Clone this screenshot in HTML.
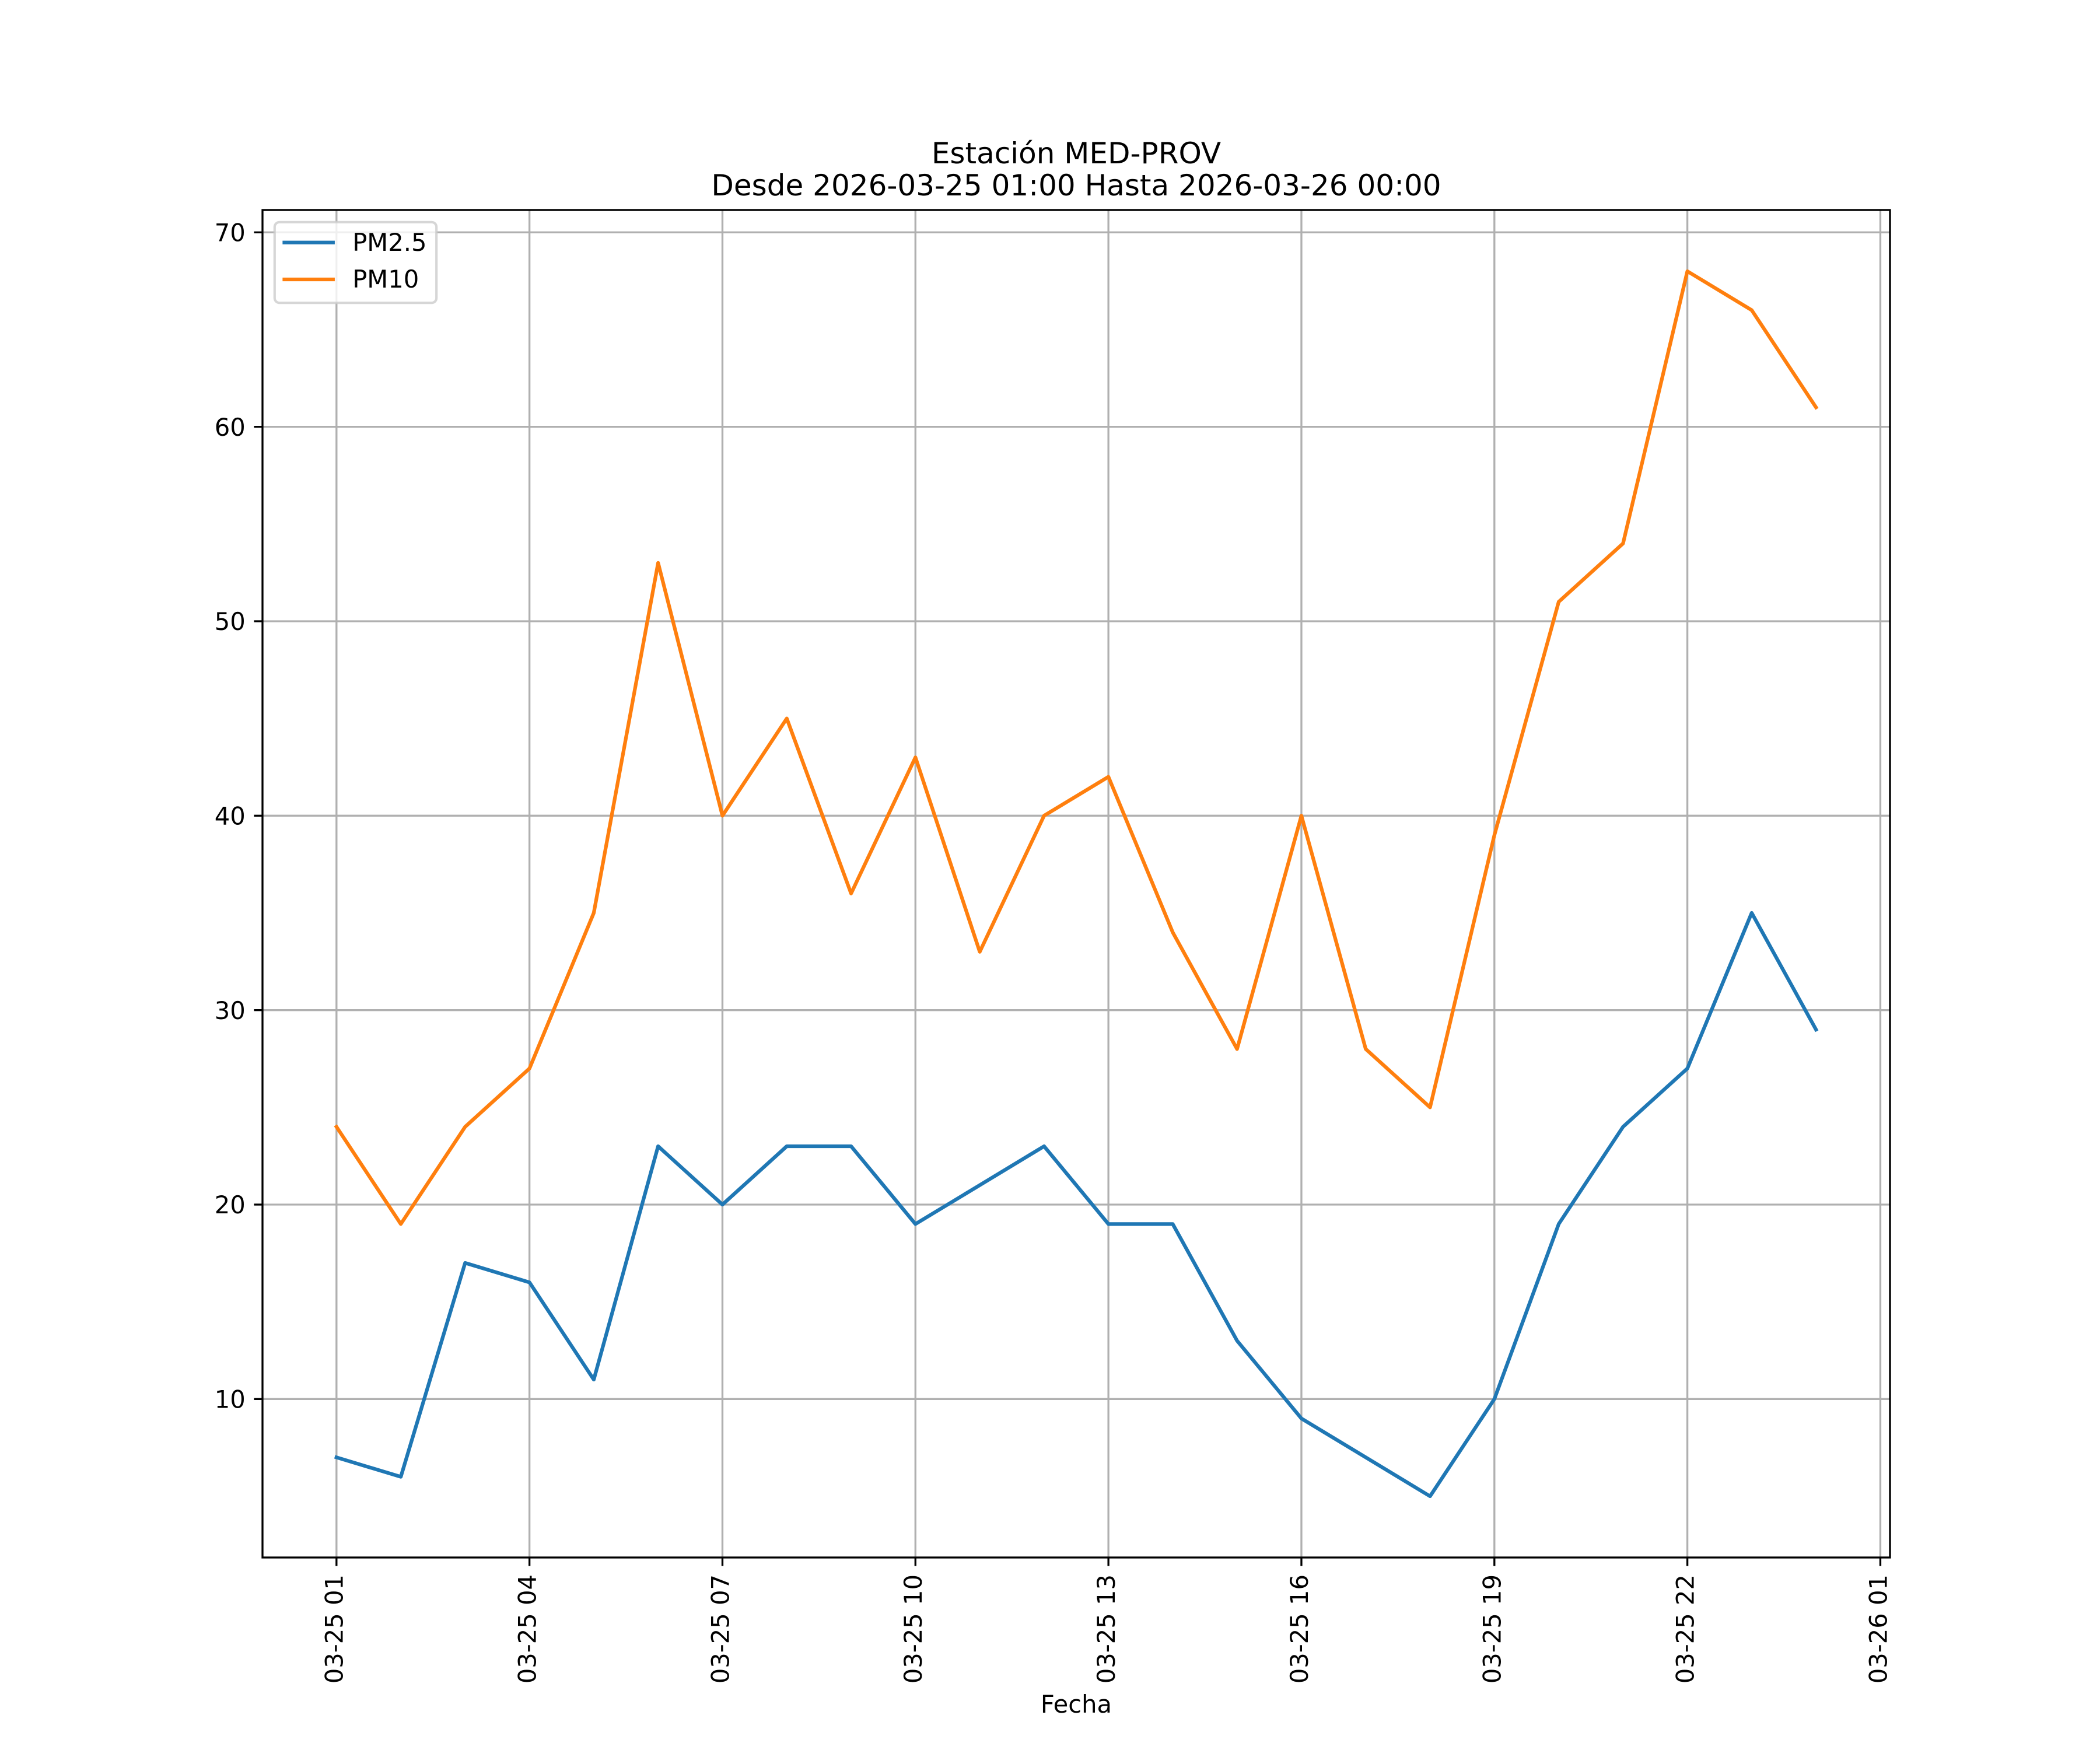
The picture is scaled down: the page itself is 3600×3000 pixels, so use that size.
<!DOCTYPE html>
<html>
<head>
<meta charset="utf-8">
<style>
html,body{margin:0;padding:0;background:#fff;}
svg{display:block;}
text{font-family:"DejaVu Sans","Liberation Sans",sans-serif;fill:#000;}
</style>
</head>
<body>
<svg width="3600" height="3000" viewBox="0 0 3600 3000" xmlns="http://www.w3.org/2000/svg">
<rect x="0" y="0" width="3600" height="3000" fill="#fff"/>
<!-- grid -->
<g stroke="#b0b0b0" stroke-width="3.33" fill="none">
<line x1="576.82" y1="360" x2="576.82" y2="2670"/>
<line x1="907.65" y1="360" x2="907.65" y2="2670"/>
<line x1="1238.48" y1="360" x2="1238.48" y2="2670"/>
<line x1="1569.31" y1="360" x2="1569.31" y2="2670"/>
<line x1="1900.14" y1="360" x2="1900.14" y2="2670"/>
<line x1="2230.97" y1="360" x2="2230.97" y2="2670"/>
<line x1="2561.80" y1="360" x2="2561.80" y2="2670"/>
<line x1="2892.63" y1="360" x2="2892.63" y2="2670"/>
<line x1="3223.46" y1="360" x2="3223.46" y2="2670"/>
<line x1="450" y1="2398.33" x2="3240" y2="2398.33"/>
<line x1="450" y1="2065" x2="3240" y2="2065"/>
<line x1="450" y1="1731.67" x2="3240" y2="1731.67"/>
<line x1="450" y1="1398.33" x2="3240" y2="1398.33"/>
<line x1="450" y1="1065" x2="3240" y2="1065"/>
<line x1="450" y1="731.67" x2="3240" y2="731.67"/>
<line x1="450" y1="398.33" x2="3240" y2="398.33"/>
</g>
<!-- series -->
<polyline fill="none" stroke="#1f77b4" stroke-width="6.25" stroke-linejoin="round" stroke-linecap="square"
points="576.82,2498.33 687.09,2531.67 797.37,2165.0 907.65,2198.33 1017.92,2365.0 1128.20,1965.0 1238.48,2065.0 1348.76,1965.0 1459.03,1965.0 1569.31,2098.33 1679.59,2031.67 1789.86,1965.0 1900.14,2098.33 2010.42,2098.33 2120.69,2298.33 2230.97,2431.67 2341.25,2498.33 2451.52,2565.0 2561.80,2398.33 2672.08,2098.33 2782.35,1931.67 2892.63,1831.67 3002.91,1565.0 3113.18,1765.0"/>
<polyline fill="none" stroke="#ff7f0e" stroke-width="6.25" stroke-linejoin="round" stroke-linecap="square"
points="576.82,1931.67 687.09,2098.33 797.37,1931.67 907.65,1831.67 1017.92,1565.0 1128.20,965.0 1238.48,1398.33 1348.76,1231.67 1459.03,1531.67 1569.31,1298.33 1679.59,1631.67 1789.86,1398.33 1900.14,1331.67 2010.42,1598.33 2120.69,1798.33 2230.97,1398.33 2341.25,1798.33 2451.52,1898.33 2561.80,1431.67 2672.08,1031.67 2782.35,931.67 2892.63,465.0 3002.91,531.67 3113.18,698.33"/>
<!-- spines -->
<rect x="450" y="360" width="2790" height="2310" fill="none" stroke="#000" stroke-width="3.33" stroke-linejoin="miter"/>
<!-- ticks -->
<g stroke="#000" stroke-width="3.33">
<line x1="576.82" y1="2670" x2="576.82" y2="2684.6"/>
<line x1="907.65" y1="2670" x2="907.65" y2="2684.6"/>
<line x1="1238.48" y1="2670" x2="1238.48" y2="2684.6"/>
<line x1="1569.31" y1="2670" x2="1569.31" y2="2684.6"/>
<line x1="1900.14" y1="2670" x2="1900.14" y2="2684.6"/>
<line x1="2230.97" y1="2670" x2="2230.97" y2="2684.6"/>
<line x1="2561.80" y1="2670" x2="2561.80" y2="2684.6"/>
<line x1="2892.63" y1="2670" x2="2892.63" y2="2684.6"/>
<line x1="3223.46" y1="2670" x2="3223.46" y2="2684.6"/>
<line x1="435.4" y1="2398.33" x2="450" y2="2398.33"/>
<line x1="435.4" y1="2065" x2="450" y2="2065"/>
<line x1="435.4" y1="1731.67" x2="450" y2="1731.67"/>
<line x1="435.4" y1="1398.33" x2="450" y2="1398.33"/>
<line x1="435.4" y1="1065" x2="450" y2="1065"/>
<line x1="435.4" y1="731.67" x2="450" y2="731.67"/>
<line x1="435.4" y1="398.33" x2="450" y2="398.33"/>
</g>
<!-- y tick labels -->
<g font-size="41.67" text-anchor="end">
<text x="420.8" y="2413.5">10</text>
<text x="420.8" y="2080.2">20</text>
<text x="420.8" y="1746.9">30</text>
<text x="420.8" y="1413.5">40</text>
<text x="420.8" y="1080.2">50</text>
<text x="420.8" y="746.9">60</text>
<text x="420.8" y="413.5">70</text>
</g>
<!-- x tick labels -->
<g font-size="41.67" text-anchor="end">
<text transform="translate(587.7,2699) rotate(-90)">03-25 01</text>
<text transform="translate(918.5,2699) rotate(-90)">03-25 04</text>
<text transform="translate(1249.4,2699) rotate(-90)">03-25 07</text>
<text transform="translate(1580.2,2699) rotate(-90)">03-25 10</text>
<text transform="translate(1911.0,2699) rotate(-90)">03-25 13</text>
<text transform="translate(2241.9,2699) rotate(-90)">03-25 16</text>
<text transform="translate(2572.7,2699) rotate(-90)">03-25 19</text>
<text transform="translate(2903.5,2699) rotate(-90)">03-25 22</text>
<text transform="translate(3234.4,2699) rotate(-90)">03-26 01</text>
</g>
<!-- axis label -->
<text x="1845" y="2936" font-size="41.67" text-anchor="middle">Fecha</text>
<!-- title -->
<text x="1845" y="280" font-size="50" text-anchor="middle">Estación MED-PROV</text>
<text x="1845" y="335" font-size="50" text-anchor="middle">Desde 2026-03-25 01:00 Hasta 2026-03-26 00:00</text>
<!-- legend -->
<rect x="470.8" y="380.8" width="277.4" height="138.4" rx="8.3" ry="8.3" fill="#fff" fill-opacity="0.8" stroke="#cccccc" stroke-opacity="0.8" stroke-width="4.17"/>
<line x1="487.5" y1="415.7" x2="570.8" y2="415.7" stroke="#1f77b4" stroke-width="6.25" stroke-linecap="square"/>
<line x1="487.5" y1="479" x2="570.8" y2="479" stroke="#ff7f0e" stroke-width="6.25" stroke-linecap="square"/>
<text x="604.2" y="430" font-size="41.67">PM2.5</text>
<text x="604.2" y="493" font-size="41.67">PM10</text>
</svg>
</body>
</html>
